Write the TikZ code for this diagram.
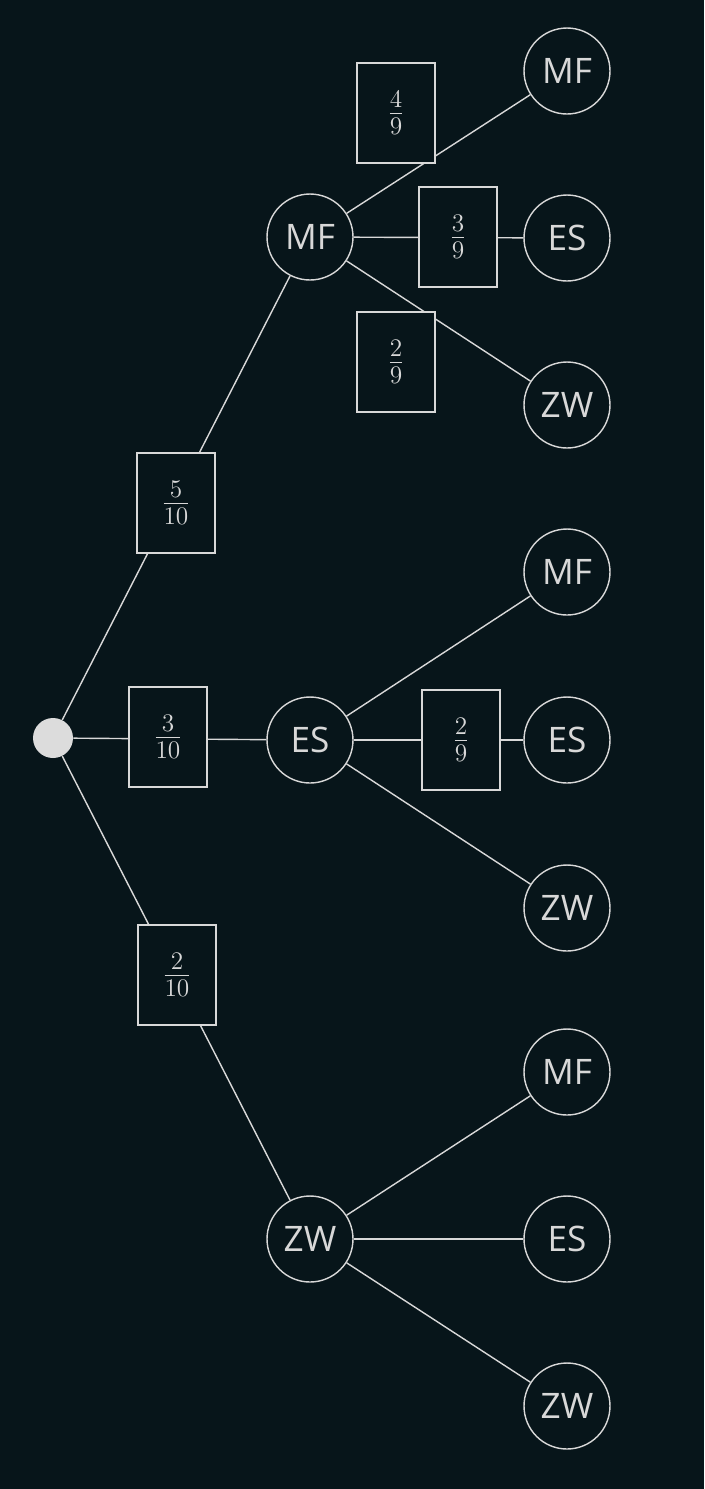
\documentclass[tikz,border=0pt]{standalone}
\usepackage{fontspec}
\setmainfont{Open Sans}
\usetikzlibrary{positioning}
\definecolor{bg}{HTML}{07151A}
\definecolor{fg}{HTML}{D8D8D8}

\begin{document}
\begin{tikzpicture}[x=0.02cm,y=-0.02cm,
    every node/.style={text=fg},
    state/.style={circle,draw=fg,thick,fill=bg,minimum size=1.72cm,inner sep=0pt,font=\fontsize{20}{24}\selectfont},
    prob/.style={draw=fg,thick,fill=bg,minimum width=1.56cm,minimum height=2cm,inner sep=0pt,font=\fontsize{20}{24}\selectfont},
    link/.style={draw=fg,thick}]

    \fill[bg] (0,0) rectangle (704,1489);

    \node[circle,fill=fg!90,minimum size=0.8cm,inner sep=0pt] (r) at (53,738) {};

    \node[state] (mf) at (310,237)  {MF};
    \node[state] (es) at (310,740)  {ES};
    \node[state] (zw) at (310,1239) {ZW};

    \node[state] (mf1) at (567,71)   {MF};
    \node[state] (es1) at (567,238)  {ES};
    \node[state] (zw1) at (567,405)  {ZW};
    \node[state] (mf2) at (567,572)  {MF};
    \node[state] (es2) at (567,740)  {ES};
    \node[state] (zw2) at (567,908)  {ZW};
    \node[state] (mf3) at (567,1072) {MF};
    \node[state] (es3) at (567,1239) {ES};
    \node[state] (zw3) at (567,1406) {ZW};

    \begin{scope}[on background layer/.style={}]
    \foreach \a/\b in {r/mf,r/es,r/zw,mf/mf1,mf/es1,mf/zw1,es/mf2,es/es2,es/zw2,zw/mf3,zw/es3,zw/zw3}
        \draw[link] (\a) -- (\b);
    \end{scope}

    \node[prob] (p1) at (176,503) {$\frac{5}{10}$};
    \node[prob] (p2) at (168,737) {$\frac{3}{10}$};
    \node[prob] (p3) at (177,975) {$\frac{2}{10}$};
    \node[prob] (p4) at (396,113) {$\frac{4}{9}$};
    \node[prob] (p5) at (458,237) {$\frac{3}{9}$};
    \node[prob] (p6) at (396,362) {$\frac{2}{9}$};
    \node[prob] (p7) at (461,740) {$\frac{2}{9}$};
\end{tikzpicture}
\end{document}
